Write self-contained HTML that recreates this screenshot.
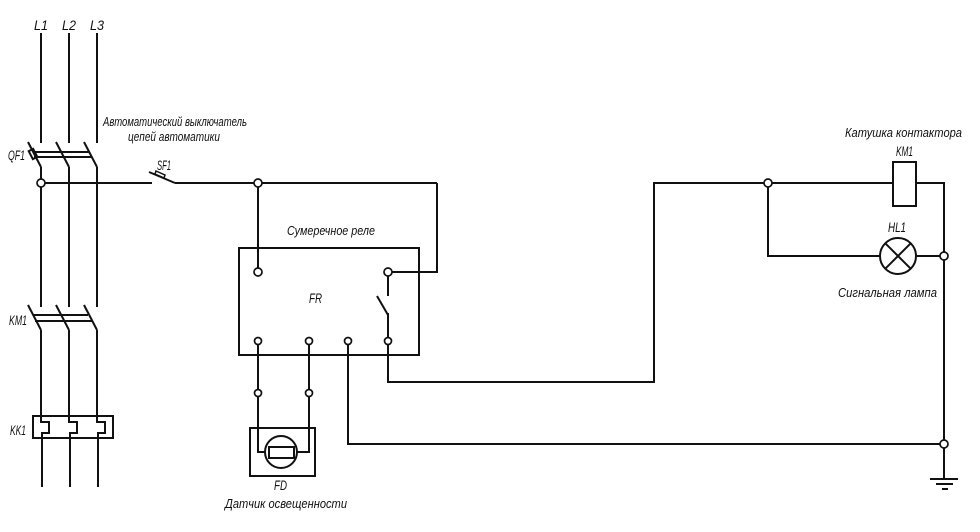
<!DOCTYPE html>
<html><head><meta charset="utf-8"><style>
html,body{margin:0;padding:0;background:#fff;}
svg{display:block;}
text{font-family:"Liberation Sans","DejaVu Sans",sans-serif;font-style:italic;fill:#111;}
</style></head><body>
<svg width="980" height="532" viewBox="0 0 980 532" xmlns="http://www.w3.org/2000/svg">
<g stroke="#111" stroke-width="2" fill="none" stroke-linecap="butt">
<line x1="41" y1="33" x2="41" y2="143"/>
<line x1="69" y1="33" x2="69" y2="143"/>
<line x1="97" y1="33" x2="97" y2="143"/>
<line x1="28" y1="142" x2="41" y2="167"/>
<line x1="56" y1="142" x2="69" y2="167"/>
<line x1="84" y1="142" x2="97" y2="167"/>
<line x1="33" y1="152" x2="89" y2="152"/>
<line x1="34" y1="157" x2="91" y2="157"/>
<rect x="30.5" y="149.5" width="5" height="9" transform="rotate(-27.5 33 154)"/>
<line x1="41" y1="167" x2="41" y2="307"/>
<line x1="69" y1="167" x2="69" y2="307"/>
<line x1="97" y1="167" x2="97" y2="307"/>
<line x1="28" y1="305" x2="41" y2="330"/>
<line x1="56" y1="305" x2="69" y2="330"/>
<line x1="84" y1="305" x2="97" y2="330"/>
<line x1="33" y1="315" x2="88" y2="315"/>
<line x1="35" y1="321" x2="92" y2="321"/>
<line x1="41" y1="330" x2="41" y2="416"/>
<line x1="69" y1="330" x2="69" y2="416"/>
<line x1="97" y1="330" x2="97" y2="416"/>
<rect x="33" y="416" width="80" height="22"/>
<path d="M41 416 V422 H49 V433 H42 V487"/>
<path d="M69 416 V422 H77 V433 H70 V487"/>
<path d="M97 416 V422 H105 V433 H98 V487"/>
<line x1="41" y1="183" x2="152" y2="183"/>
<line x1="149" y1="172" x2="175" y2="183"/>
<polygon points="156,171 165,175 164,178 155,174" stroke-width="1.5"/>
<line x1="175" y1="183" x2="437" y2="183"/>
<polyline points="437,183 437,272 388,272"/>
<line x1="258" y1="183" x2="258" y2="272"/>
<rect x="239" y="248" width="180" height="107"/>
<line x1="388" y1="272" x2="388" y2="296"/>
<line x1="377" y1="296" x2="388" y2="315"/>
<line x1="388" y1="313" x2="388" y2="341"/>
<polyline points="258,341 258,452 265,452"/>
<polyline points="309,341 309,452 297,452"/>
<polyline points="348,341 348,444 944,444"/>
<polyline points="388,341 388,382 654,382 654,183 893,183"/>
<rect x="250" y="428" width="65" height="48"/>
<circle cx="281" cy="452" r="16"/>
<rect x="269" y="447" width="25" height="11"/>
<rect x="893" y="162" width="23" height="44"/>
<polyline points="916,183 944,183 944,479"/>
<polyline points="768,183 768,256 880,256"/>
<circle cx="898" cy="256" r="18"/>
<line x1="885.3" y1="243.3" x2="910.7" y2="268.7"/>
<line x1="910.7" y1="243.3" x2="885.3" y2="268.7"/>
<line x1="916" y1="256" x2="944" y2="256"/>
<line x1="930" y1="479" x2="958" y2="479"/>
<line x1="936" y1="484" x2="953" y2="484"/>
<line x1="942" y1="489" x2="948" y2="489"/>
</g>
<g stroke="#111" stroke-width="1.7" fill="#fff">
<circle cx="41" cy="183" r="4"/>
<circle cx="258" cy="183" r="4"/>
<circle cx="258" cy="272" r="4"/>
<circle cx="388" cy="272" r="4"/>
<circle cx="258" cy="341" r="3.5"/>
<circle cx="309" cy="341" r="3.5"/>
<circle cx="348" cy="341" r="3.5"/>
<circle cx="388" cy="341" r="3.5"/>
<circle cx="258" cy="393" r="3.5"/>
<circle cx="309" cy="393" r="3.5"/>
<circle cx="768" cy="183" r="4"/>
<circle cx="944" cy="256" r="4"/>
<circle cx="944" cy="444" r="4"/>
</g>
<g font-size="14">
<text x="34" y="30" textLength="14" lengthAdjust="spacingAndGlyphs">L1</text>
<text x="62" y="30" textLength="14" lengthAdjust="spacingAndGlyphs">L2</text>
<text x="90" y="30" textLength="14" lengthAdjust="spacingAndGlyphs">L3</text>
<text x="8" y="160" textLength="17" lengthAdjust="spacingAndGlyphs">QF1</text>
<text x="157" y="170" textLength="14" lengthAdjust="spacingAndGlyphs">SF1</text>
<text x="9" y="325" textLength="18" lengthAdjust="spacingAndGlyphs">KM1</text>
<text x="10" y="435" textLength="16" lengthAdjust="spacingAndGlyphs">KK1</text>
<text x="309" y="303" textLength="13" lengthAdjust="spacingAndGlyphs">FR</text>
<text x="274" y="490" textLength="13" lengthAdjust="spacingAndGlyphs">FD</text>
<text x="896" y="156" textLength="17" lengthAdjust="spacingAndGlyphs">KM1</text>
<text x="888" y="232" textLength="18" lengthAdjust="spacingAndGlyphs">HL1</text>
</g>
<g font-size="13">
<text x="103" y="126" textLength="144" lengthAdjust="spacingAndGlyphs">Автоматический выключатель</text>
<text x="128" y="141" textLength="92" lengthAdjust="spacingAndGlyphs">цепей автоматики</text>
<text x="287" y="235" textLength="88" lengthAdjust="spacingAndGlyphs">Сумеречное реле</text>
<text x="225" y="508" textLength="122" lengthAdjust="spacingAndGlyphs">Датчик освещенности</text>
<text x="845" y="137" textLength="117" lengthAdjust="spacingAndGlyphs">Катушка контактора</text>
<text x="838" y="297" textLength="99" lengthAdjust="spacingAndGlyphs">Сигнальная лампа</text>
</g>
</svg>
</body></html>
